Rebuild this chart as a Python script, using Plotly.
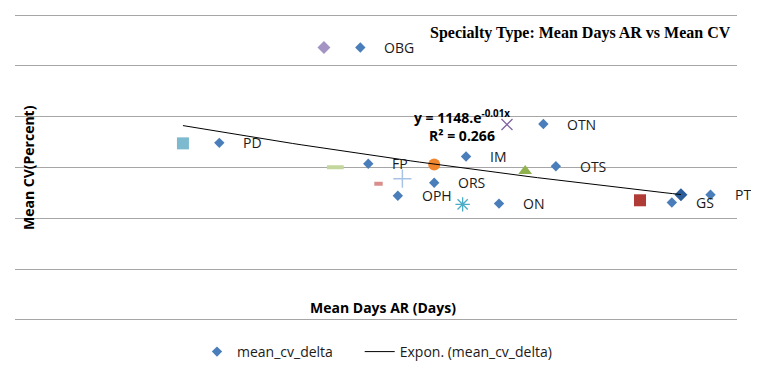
import numpy as np
import plotly.graph_objects as go

# labelled series: mean_cv_delta
spec_labels = ["OBG", "PD", "FP", "OPH", "ORS", "IM", "OTN", "OTS", "ON", "GS", "PT"]
delta_x = [56.2, 43.8, 56.9, 59.5, 62.7, 65.5, 72.3, 73.4, 68.4, 83.6, 87.0]
delta_y = [1072, 697, 615, 489, 540, 643, 771, 605, 458, 462, 493]

# other (unlabelled) series, one point each
other_names = ["s1", "s2", "s3", "s4", "s5", "s6", "s7", "s8", "s9", "s10", "s11"]
other_x = [84.4, 80.8, 70.7, 69.1, 65.2, 62.7, 59.9, 57.8, 54.0, 53.0, 40.6]
other_y = [493, 471, 586, 769, 455, 612, 556, 536, 601, 1072, 695]
other_symbols = ["diamond", "square", "triangle-up", "x-thin-open", "asterisk-open",
                 "circle", "cross-thin-open", "line-ew-open", "line-ew-open",
                 "diamond", "square"]
other_colors = ["#2c5d98", "#b03a36", "#8fb24f", "#8064a2", "#4bacc6",
                "#f0872f", "#a9c3e6", "#d98e8c", "#c3d69b", "#a394c4", "#7db9cf"]
other_sizes = [10, 12, 12, 11, 12, 12, 13, 6, 12, 10, 12]
other_lw = [0, 0, 0, 1.3, 1.3, 0, 1.5, 4, 4, 0, 0]

# exponential trend y = A * exp(B x)
trend_A = 1148
trend_B = -0.01

x_range = [25.83, 89.33]
y_range = [-4, 1204]

fig = go.Figure()

for i in range(len(other_x)):
    fig.add_trace(go.Scatter(
        x=[other_x[i]], y=[other_y[i]], mode="markers", name=other_names[i],
        showlegend=False,
        marker=dict(symbol=other_symbols[i], size=other_sizes[i], color=other_colors[i],
                    line=dict(width=other_lw[i], color=other_colors[i])),
    ))

fig.add_trace(go.Scatter(
    x=delta_x, y=delta_y, mode="markers", name="mean_cv_delta" + "\u00a0" * 6,
    marker=dict(symbol="diamond", size=8, color="#4a7ebb"),
))

tx = np.linspace(min(other_x), max(other_x), 60)
ty = trend_A * np.exp(trend_B * tx)
fig.add_trace(go.Scatter(
    x=tx, y=ty, mode="lines", name="Expon. (mean_cv_delta)",
    line=dict(color="#000000", width=1),
))

annotations = []
for lab, x, y in zip(spec_labels, delta_x, delta_y):
    annotations.append(dict(x=x, y=y, text=lab, showarrow=False, xanchor="left",
                            yanchor="middle", xshift=22,
                            font=dict(family="Open Sans", size=14, color="#1a1a1a")))

# page offset (browser body margin) and figure geometry
OFF = 8
W, H = 759 - OFF, 372 - OFF
ml, mr, mt, mb = 7, 22, 6, 51
pw, ph = W - ml - mr, H - mt - mb


def px_to_paper(sx, sy):
    return (sx - OFF - ml) / pw, (H - mb - (sy - OFF)) / ph


text_items = [
    ("<b>y = 1148.e<sup>-0.01x</sup></b><br><b>R² = 0.266</b>", 462, 126, 0,
     dict(family="Open Sans", size=14, color="#000000")),
    ("<b>Specialty Type: Mean Days AR vs Mean CV</b>", 580, 33, 0,
     dict(family="Liberation Serif", size=16, color="#000000")),
    ("<b>Mean Days AR (Days)</b>", 383, 307, 0,
     dict(family="Open Sans", size=14, color="#000000")),
    ("<b>Mean CV(Percent)</b>", 28, 168, -90,
     dict(family="Open Sans", size=14, color="#000000")),
]
for txt, sx, sy, ang, fnt in text_items:
    ax, ay = px_to_paper(sx, sy)
    annotations.append(dict(x=ax, y=ay, xref="paper", yref="paper", text=txt,
                            showarrow=False, xanchor="center", yanchor="middle",
                            textangle=ang, font=fnt, align="center"))

lx, ly = px_to_paper(197, 352)

fig.update_layout(
    width=W, height=H,
    margin=dict(l=ml, r=mr, t=mt, b=mb, autoexpand=False),
    paper_bgcolor="white", plot_bgcolor="white",
    xaxis=dict(range=x_range, showgrid=False, zeroline=False, showticklabels=False,
               showline=False, ticks=""),
    yaxis=dict(range=y_range, tick0=0, dtick=200, showgrid=True, gridcolor="#a6a6a6",
               gridwidth=1, zeroline=False, showticklabels=False, showline=False, ticks=""),
    showlegend=True,
    legend=dict(orientation="h", x=lx, xanchor="left", y=ly, yanchor="middle",
                font=dict(family="Open Sans", size=14, color="#1a1a1a"),
                bgcolor="rgba(0,0,0,0)"),
    annotations=annotations,
)

fig.write_html("out.html")
